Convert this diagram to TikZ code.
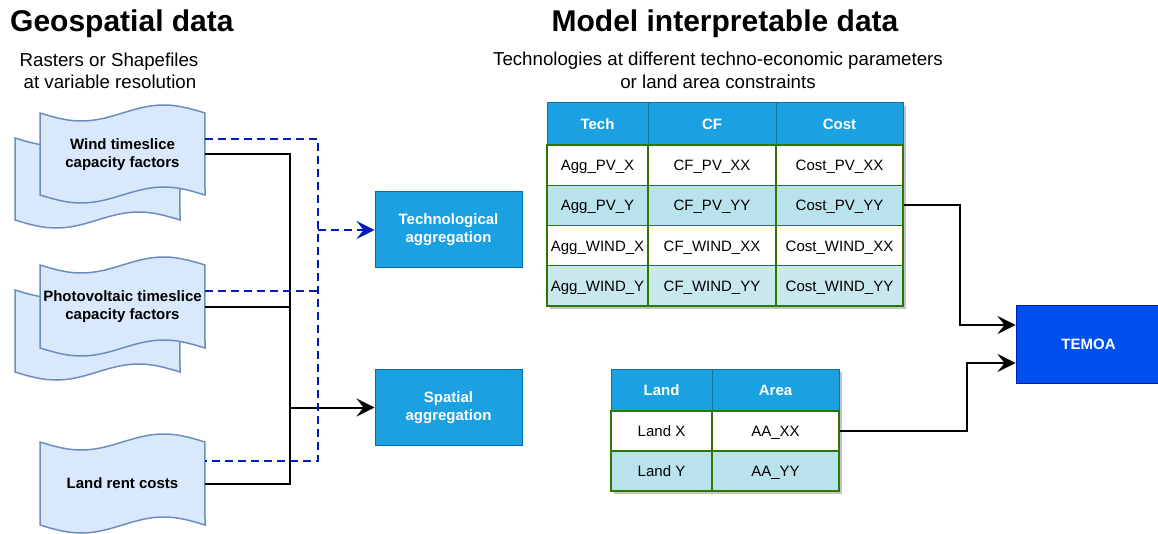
\documentclass[tikz,border=0pt]{standalone}
\usepackage{fontspec}
\setmainfont{Liberation Sans}
\usetikzlibrary{arrows.meta,calc}

\definecolor{docfill}{HTML}{DAE8FC}
\definecolor{docline}{HTML}{6C8EBF}
\definecolor{aggfill}{HTML}{1BA1E2}
\definecolor{aggline}{HTML}{006EAF}
\definecolor{temfill}{HTML}{0050EF}
\definecolor{temline}{HTML}{001DBC}
\definecolor{dashblue}{HTML}{001DBC}
\definecolor{rowcyan}{HTML}{B9E2EC}
\definecolor{rowcyanb}{HTML}{C9E8EE}
\definecolor{gridgreen}{HTML}{2D7600}
\definecolor{headline}{HTML}{10739E}
\definecolor{shadowgray}{HTML}{C4C4C4}

% wavy "tape" document outline: x1, y1 (top), x2, y2 (bottom)
\newcommand\tapeshape[4]{%
  \draw[docshape]
    plot[domain=0:1,samples=41,variable=\t] ({#1+\t*(#3-#1)},{#2+8*sin(360*\t)})
    -- plot[domain=1:0,samples=41,variable=\t] ({#1+\t*(#3-#1)},{#4+8*sin(360*\t)})
    -- cycle;}

% table cell: name, x1, y1, x2, y2, style, text
\newcommand\tcell[7]{%
  \node[#6, minimum width={(#4-#2)*1pt}, minimum height={(#5-#3)*1pt}]
    (#1) at ({(#2+#4)/2},{(#3+#5)/2}) {#7};}

\tikzset{
  docshape/.style={draw=docline, fill=docfill, line width=1.5pt},
  doclabel/.style={minimum width=165pt, minimum height=82pt, inner sep=0pt,
    align=center, font=\fontsize{15}{18}\selectfont\bfseries},
  aggbox/.style={draw=aggline, fill=aggfill, line width=1pt, minimum width=147pt,
    minimum height=76pt, inner sep=0pt, align=center, text=white,
    font=\fontsize{15}{18}\selectfont\bfseries},
  temoabox/.style={draw=temline, fill=temfill, line width=1pt, minimum width=145pt,
    minimum height=77pt, inner sep=0pt, text=white,
    font=\fontsize{15}{18}\selectfont\bfseries},
  headcell/.style={draw=headline, fill=aggfill, line width=1pt, inner sep=0pt,
    text height=12.4pt, text depth=1.6pt,
    text=white, font=\fontsize{15}{18}\selectfont\bfseries},
  wcell/.style={draw=gridgreen, fill=white, line width=1.3pt, inner sep=0pt,
    text height=12.4pt, text depth=1.6pt, font=\fontsize{15}{18}\selectfont},
  ccell/.style={wcell, fill=rowcyan},
  dcell/.style={wcell, fill=rowcyanb},
  link/.style={line width=2pt, black},
  dlink/.style={line width=2pt, dashblue, dash pattern=on 8pt off 5pt},
  arrowend/.style={-{Stealth[length=18pt,width=18pt,inset=7pt]}},
  title/.style={inner sep=0pt, font=\fontsize{30}{36}\selectfont\bfseries},
  subtitle/.style={inner sep=0pt, font=\fontsize{18.7}{22}\selectfont},
}

\begin{document}
\begin{tikzpicture}[x=1pt,y=-1pt]
\useasboundingbox (0,0) rectangle (1158,534);

% headings
\node[title, anchor=base west] (geotitle) at (10,32) {Geospatial data};
\node[title, anchor=base] (modeltitle) at (725,32) {Model interpretable data};
\node[subtitle, anchor=base] (geosub1) at (109,67) {Rasters or Shapefiles};
\node[subtitle, anchor=base] (geosub2) at (110,89) {at variable resolution};
\node[subtitle, anchor=base] (modelsub1) at (718,66) {Technologies at different techno-economic parameters};
\node[subtitle, anchor=base] (modelsub2) at (718,89) {or land area constraints};

% geospatial inputs (stacked documents)
\tapeshape{15}{138}{180}{220}
\tapeshape{40}{113}{205}{195}
\node[doclabel] (wind) at (122.5,155) {Wind timeslice\\capacity factors};

\tapeshape{15}{290}{180}{372}
\tapeshape{40}{265}{205}{348}
\node[doclabel] (pv) at (122.5,307) {Photovoltaic timeslice\\capacity factors};

\tapeshape{40}{442}{205}{525}
\node[doclabel] (land) at (122.5,483.5) {Land rent costs};

% aggregation steps
\node[aggbox] (tech) at (448.5,230) {Technological\\aggregation};
\node[aggbox] (spatial) at (448.5,407.5) {Spatial\\aggregation};

% model
\node[temoabox] (temoa) at (1088.5,344.5) {TEMOA};

% technology table
\fill[shadowgray] (550,106) rectangle (906,309);
\tcell{th1}{547}{103}{648}{145}{headcell}{Tech}
\tcell{th2}{648}{103}{776}{145}{headcell}{CF}
\tcell{th3}{776}{103}{903}{145}{headcell}{Cost}
\tcell{t11}{547}{145}{648}{185.25}{wcell}{Agg\_PV\_X}
\tcell{t12}{648}{145}{776}{185.25}{wcell}{CF\_PV\_XX}
\tcell{t13}{776}{145}{903}{185.25}{wcell}{Cost\_PV\_XX}
\tcell{t21}{547}{185.25}{648}{225.5}{ccell}{Agg\_PV\_Y}
\tcell{t22}{648}{185.25}{776}{225.5}{ccell}{CF\_PV\_YY}
\tcell{t23}{776}{185.25}{903}{225.5}{ccell}{Cost\_PV\_YY}
\tcell{t31}{547}{225.5}{648}{265.75}{wcell}{Agg\_WIND\_X}
\tcell{t32}{648}{225.5}{776}{265.75}{wcell}{CF\_WIND\_XX}
\tcell{t33}{776}{225.5}{903}{265.75}{wcell}{Cost\_WIND\_XX}
\tcell{t41}{547}{265.75}{648}{306}{dcell}{Agg\_WIND\_Y}
\tcell{t42}{648}{265.75}{776}{306}{dcell}{CF\_WIND\_YY}
\tcell{t43}{776}{265.75}{903}{306}{dcell}{Cost\_WIND\_YY}

% land table
\fill[shadowgray] (614,372) rectangle (842,494);
\tcell{lh1}{611}{369}{712}{411}{headcell}{Land}
\tcell{lh2}{712}{369}{839}{411}{headcell}{Area}
\tcell{l11}{611}{411}{712}{451}{wcell}{Land X}
\tcell{l12}{712}{411}{839}{451}{wcell}{AA\_XX}
\tcell{l21}{611}{451}{712}{491}{ccell}{Land Y}
\tcell{l22}{712}{451}{839}{491}{ccell}{AA\_YY}

% spatial path (solid)
\coordinate (btrunk) at ([xshift=85pt,yshift=1pt]wind.east);
\draw[link] ([yshift=1pt]wind.east) -- (btrunk) |- (land.east);
\draw[link] (pv.east) -- (pv.east -| btrunk);
\draw[link, arrowend] (spatial.west -| btrunk) -- (spatial.west);

% technological path (dashed)
\coordinate (dtrunk) at ([xshift=113pt,yshift=16pt]wind.east);
\draw[dlink] ([yshift=16pt]wind.east) -- (dtrunk) |- ([yshift=23pt]land.east);
\draw[dlink] ([yshift=16pt]pv.east) -- ([yshift=16pt]pv.east -| dtrunk);
\draw[dlink, arrowend] (tech.west -| dtrunk) -- (tech.west);

% feeds into the model
\draw[link, arrowend] (t23.east) -- ++(56,0) |- ([yshift=19.5pt]temoa.west);
\draw[link, arrowend] (l12.east) -- ++(127,0) |- ([yshift=-18.5pt]temoa.west);
\end{tikzpicture}
\end{document}
